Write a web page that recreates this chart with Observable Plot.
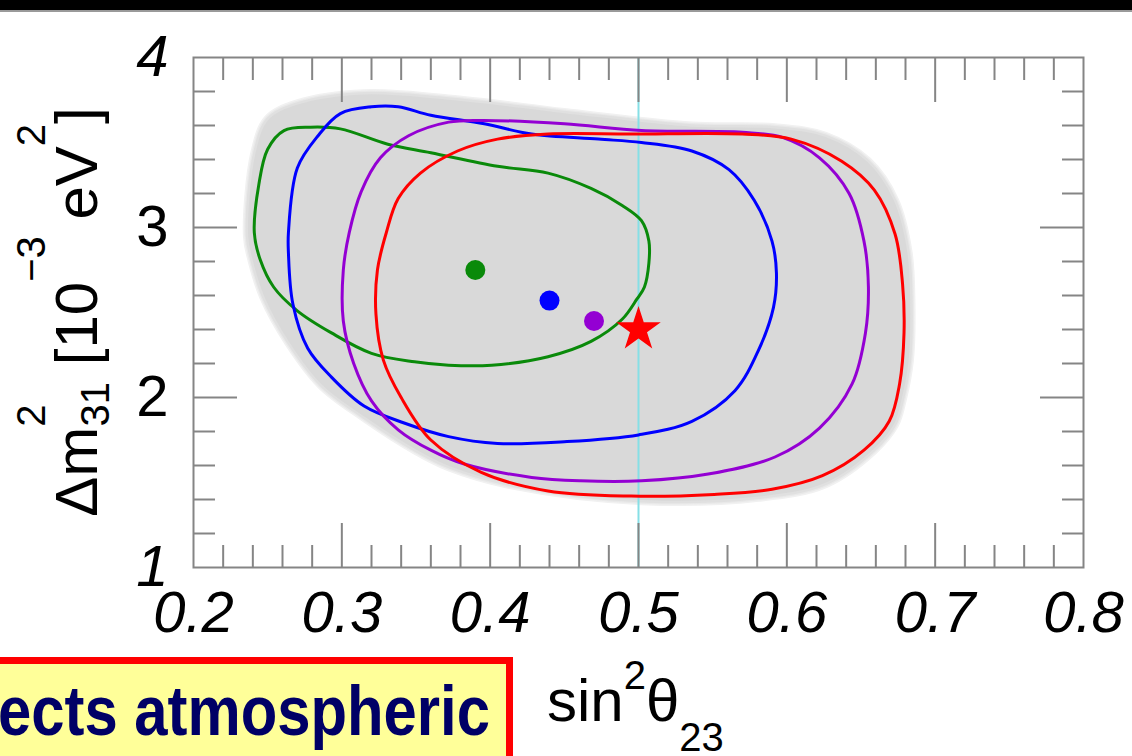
<!DOCTYPE html>
<html><head><meta charset="utf-8">
<script src="https://cdn.jsdelivr.net/npm/d3@7"></script>
<script src="https://cdn.jsdelivr.net/npm/@observablehq/plot@0.6"></script>
<style>
html,body{margin:0;padding:0;background:#fff;overflow:hidden;}
#wrap{position:relative;width:1132px;height:756px;}
</style></head><body><div id="wrap"></div>
<script>
// ---- data (sin^2 theta23, Δm^2_31 [1e-3 eV^2]) ----
const regionX = [0.236,0.241,0.250,0.270,0.315,0.382,0.450,0.536,0.592,0.626,0.655,0.673,0.682,0.684,0.683,0.678,0.673,0.659,0.626,0.581,0.502,0.416,0.372,0.349,0.315,0.286,0.264,0.247,0.239];
const regionY = [2.95,3.44,3.64,3.73,3.79,3.75,3.68,3.60,3.59,3.54,3.39,3.16,2.86,2.57,2.22,1.98,1.84,1.69,1.49,1.41,1.39,1.48,1.59,1.69,1.88,2.07,2.32,2.59,2.81];

const greenX = [0.241,0.244,0.250,0.261,0.279,0.299,0.331,0.360,0.405,0.439,0.468,0.489,0.502,0.507,0.507,0.504,0.499,0.489,0.468,0.439,0.401,0.372,0.349,0.320,0.293,0.270,0.254,0.245];
const greenY = [2.97,3.25,3.46,3.57,3.59,3.58,3.49,3.44,3.36,3.32,3.23,3.13,3.04,2.92,2.79,2.65,2.58,2.46,2.33,2.24,2.19,2.19,2.21,2.26,2.38,2.51,2.65,2.81];

const blueX = [0.264,0.270,0.284,0.299,0.320,0.338,0.360,0.396,0.428,0.473,0.502,0.536,0.561,0.578,0.590,0.593,0.591,0.581,0.565,0.536,0.500,0.450,0.405,0.372,0.342,0.315,0.293,0.277,0.267,0.264];
const blueY = [2.97,3.35,3.54,3.67,3.71,3.71,3.66,3.61,3.55,3.52,3.50,3.45,3.34,3.16,2.92,2.73,2.53,2.28,2.04,1.86,1.78,1.74,1.73,1.77,1.85,1.95,2.12,2.29,2.55,2.85];

const purpleX = [0.305,0.313,0.326,0.345,0.372,0.394,0.450,0.502,0.570,0.597,0.622,0.642,0.652,0.655,0.653,0.644,0.622,0.592,0.547,0.502,0.461,0.428,0.382,0.360,0.338,0.320,0.308,0.301,0.301];
const purpleY = [2.97,3.21,3.41,3.54,3.62,3.63,3.61,3.57,3.56,3.53,3.41,3.20,2.92,2.65,2.38,2.08,1.82,1.65,1.55,1.51,1.51,1.53,1.61,1.69,1.81,1.98,2.20,2.45,2.75];

const redX = [0.330,0.338,0.353,0.378,0.405,0.439,0.495,0.570,0.603,0.637,0.659,0.673,0.678,0.679,0.676,0.669,0.652,0.624,0.590,0.551,0.495,0.439,0.394,0.360,0.340,0.328,0.323,0.324];
const redY = [2.97,3.17,3.32,3.45,3.52,3.55,3.55,3.55,3.52,3.39,3.22,2.96,2.67,2.38,2.08,1.86,1.69,1.54,1.46,1.43,1.42,1.45,1.56,1.75,2.00,2.22,2.49,2.75];

const bestFitNames = ["green","blue","purple"];
const bestFitX = [0.39, 0.44, 0.47];
const bestFitY = [2.75, 2.57, 2.45];
const trueX = [0.5];
const trueY = [2.4];

const xTickLabels = [0.2,0.3,0.4,0.5,0.6,0.7,0.8];
const yTickLabels = [1,2,3,4];
const yItalicLabels = [1,4];

// ---- styles ----
const colors = {green:"#0a8a0a", blue:"#0000ff", purple:"#9400d3", red:"#ff0000"};
const FONT = "'Liberation Sans', Arial, Helvetica, sans-serif";

const toRows = (X, Y) => X.map((x, i) => ({x, y: Y[i]}));
const contours = [
  {name:"green", rows: toRows(greenX, greenY)},
  {name:"blue", rows: toRows(blueX, blueY)},
  {name:"purple", rows: toRows(purpleX, purpleY)},
  {name:"red", rows: toRows(redX, redY)}
];
const region = toRows(regionX, regionY);
const bestFit = bestFitNames.map((n, i) => ({name:n, x: bestFitX[i], y: bestFitY[i]}));
const truth = trueX.map((x, i) => ({x, y: trueY[i]}));

const r2 = v => Math.round(v * 100) / 100;
const xMinor = d3.range(0.22, 0.80, 0.02).map(r2).filter(v => Math.round(v * 100) % 10 !== 0);
const xMajor = xTickLabels.slice(1, -1);
const yMinor = d3.range(1.2, 4.0, 0.2).map(r2).filter(v => Math.round(v * 10) % 10 !== 0);
const yMajor = yTickLabels.slice(1, -1);

const tickStyle = {stroke:"#858585", strokeWidth:2, tickFormat: () => "", label: null};
const MINOR = 22, MAJOR = 44;

// shaded allowed region: soft edge built from nested strokes
const regionLayers = [
  {stroke:"#f1f1f1", width:8},
  {stroke:"#e9e9e9", width:5},
  {stroke:"#e0e0e0", width:2.5}
];

const plot = Plot.plot({
  width: 1132, height: 756,
  marginLeft: 193, marginRight: 49, marginTop: 57, marginBottom: 189,
  style: {fontFamily: FONT, background: "transparent", overflow: "visible"},
  x: {domain: [0.2, 0.8], axis: null},
  y: {domain: [1, 4], axis: null},
  marks: [
    ...regionLayers.map(l => Plot.line(region, {x:"x", y:"y", fill:"#d9d9d9", stroke:l.stroke, strokeWidth:l.width, curve:"catmull-rom-closed"})),
    Plot.ruleX([0.5], {stroke:"#86dfe6", strokeWidth:2}),
    ...contours.map(c => Plot.line(c.rows, {x:"x", y:"y", stroke: colors[c.name], strokeWidth:3, curve:"catmull-rom-closed"})),
    Plot.dot(bestFit, {x:"x", y:"y", r:10, fill: d => colors[d.name], stroke:"none"}),
    Plot.dot(truth, {x:"x", y:"y", symbol:"star", r:14, fill:"#ff0000", stroke:"none"}),
    Plot.frame({stroke:"#858585", strokeWidth:2}),
    Plot.axisX(xMinor, {anchor:"bottom", tickSize:-MINOR, ...tickStyle}),
    Plot.axisX(xMinor, {anchor:"top", tickSize:-MINOR, ...tickStyle}),
    Plot.axisX(xMajor, {anchor:"bottom", tickSize:-MAJOR, ...tickStyle}),
    Plot.axisX(xMajor, {anchor:"top", tickSize:-MAJOR, ...tickStyle}),
    Plot.axisY(yMinor, {anchor:"left", tickSize:-MINOR, ...tickStyle}),
    Plot.axisY(yMinor, {anchor:"right", tickSize:-MINOR, ...tickStyle}),
    Plot.axisY(yMajor, {anchor:"left", tickSize:-MAJOR, ...tickStyle}),
    Plot.axisY(yMajor, {anchor:"right", tickSize:-MAJOR, ...tickStyle}),
    Plot.text(xTickLabels, {x: d => d, text: d3.format(".1f"), frameAnchor:"bottom", dy:46, lineAnchor:"middle", textAnchor:"middle", fontSize:58, fontStyle:"italic", fill:"#000"}),
    Plot.text(yTickLabels.filter(d => yItalicLabels.includes(d)), {y: d => d, text: d => String(d), frameAnchor:"left", dx:-25, textAnchor:"end", lineAnchor:"middle", fontSize:58, fontStyle:"italic", fill:"#000"}),
    Plot.text(yTickLabels.filter(d => !yItalicLabels.includes(d)), {y: d => d, text: d => String(d), frameAnchor:"left", dx:-25, textAnchor:"end", lineAnchor:"middle", fontSize:58, fill:"#000"})
  ]
});

document.getElementById("wrap").appendChild(plot);
const svg = d3.select(plot);

// top black bar (slide edge)
svg.append("rect").attr("x",0).attr("y",0).attr("width",1132).attr("height",10).attr("fill","#000");
svg.append("rect").attr("x",0).attr("y",10).attr("width",1132).attr("height",2).attr("fill","#9a9a9a");

// y-axis title: Δm^2_31 [10^-3 eV^2]
const yt = svg.append("text").attr("transform","translate(97,312) rotate(-90)")
  .attr("text-anchor","middle").attr("font-family",FONT).attr("font-size",60).attr("fill","#000");
yt.append("tspan").text("Δm");
yt.append("tspan").attr("font-size",40).attr("dy",-52).text("2");
yt.append("tspan").attr("font-size",40).attr("dx",-22).attr("dy",64).text("31");
yt.append("tspan").attr("dy",-12).text(" [10");
yt.append("tspan").attr("font-size",40).attr("dy",-52).text("−3");
yt.append("tspan").attr("dy",52).text(" eV");
yt.append("tspan").attr("font-size",40).attr("dy",-52).text("2");
yt.append("tspan").attr("dy",52).text("]");

// x-axis title: sin^2 θ_23
const xt = svg.append("text").attr("x",547).attr("y",721).attr("text-anchor","start")
  .attr("font-family",FONT).attr("font-size",60).attr("fill","#000");
xt.append("tspan").text("sin");
xt.append("tspan").attr("font-size",40).attr("dy",-32).text("2");
xt.append("tspan").attr("dy",32).text("θ");
xt.append("tspan").attr("font-size",40).attr("dy",30).text("23");

// yellow caption box (cut at the slide edge)
svg.append("rect").attr("x",-20).attr("y",660.5).attr("width",529.5).attr("height",120)
  .attr("fill","#ffff99").attr("stroke","#ff0000").attr("stroke-width",7);
svg.append("text").attr("x",-2).attr("y",735).attr("text-anchor","start")
  .attr("font-family","'Liberation Sans Narrow','Arial Narrow','Liberation Sans',Arial,sans-serif")
  .attr("font-weight","bold").attr("font-size",70).attr("fill","#000066")
  .attr("textLength",492).attr("lengthAdjust","spacingAndGlyphs")
  .text("ects atmospheric");
</script></body></html>
